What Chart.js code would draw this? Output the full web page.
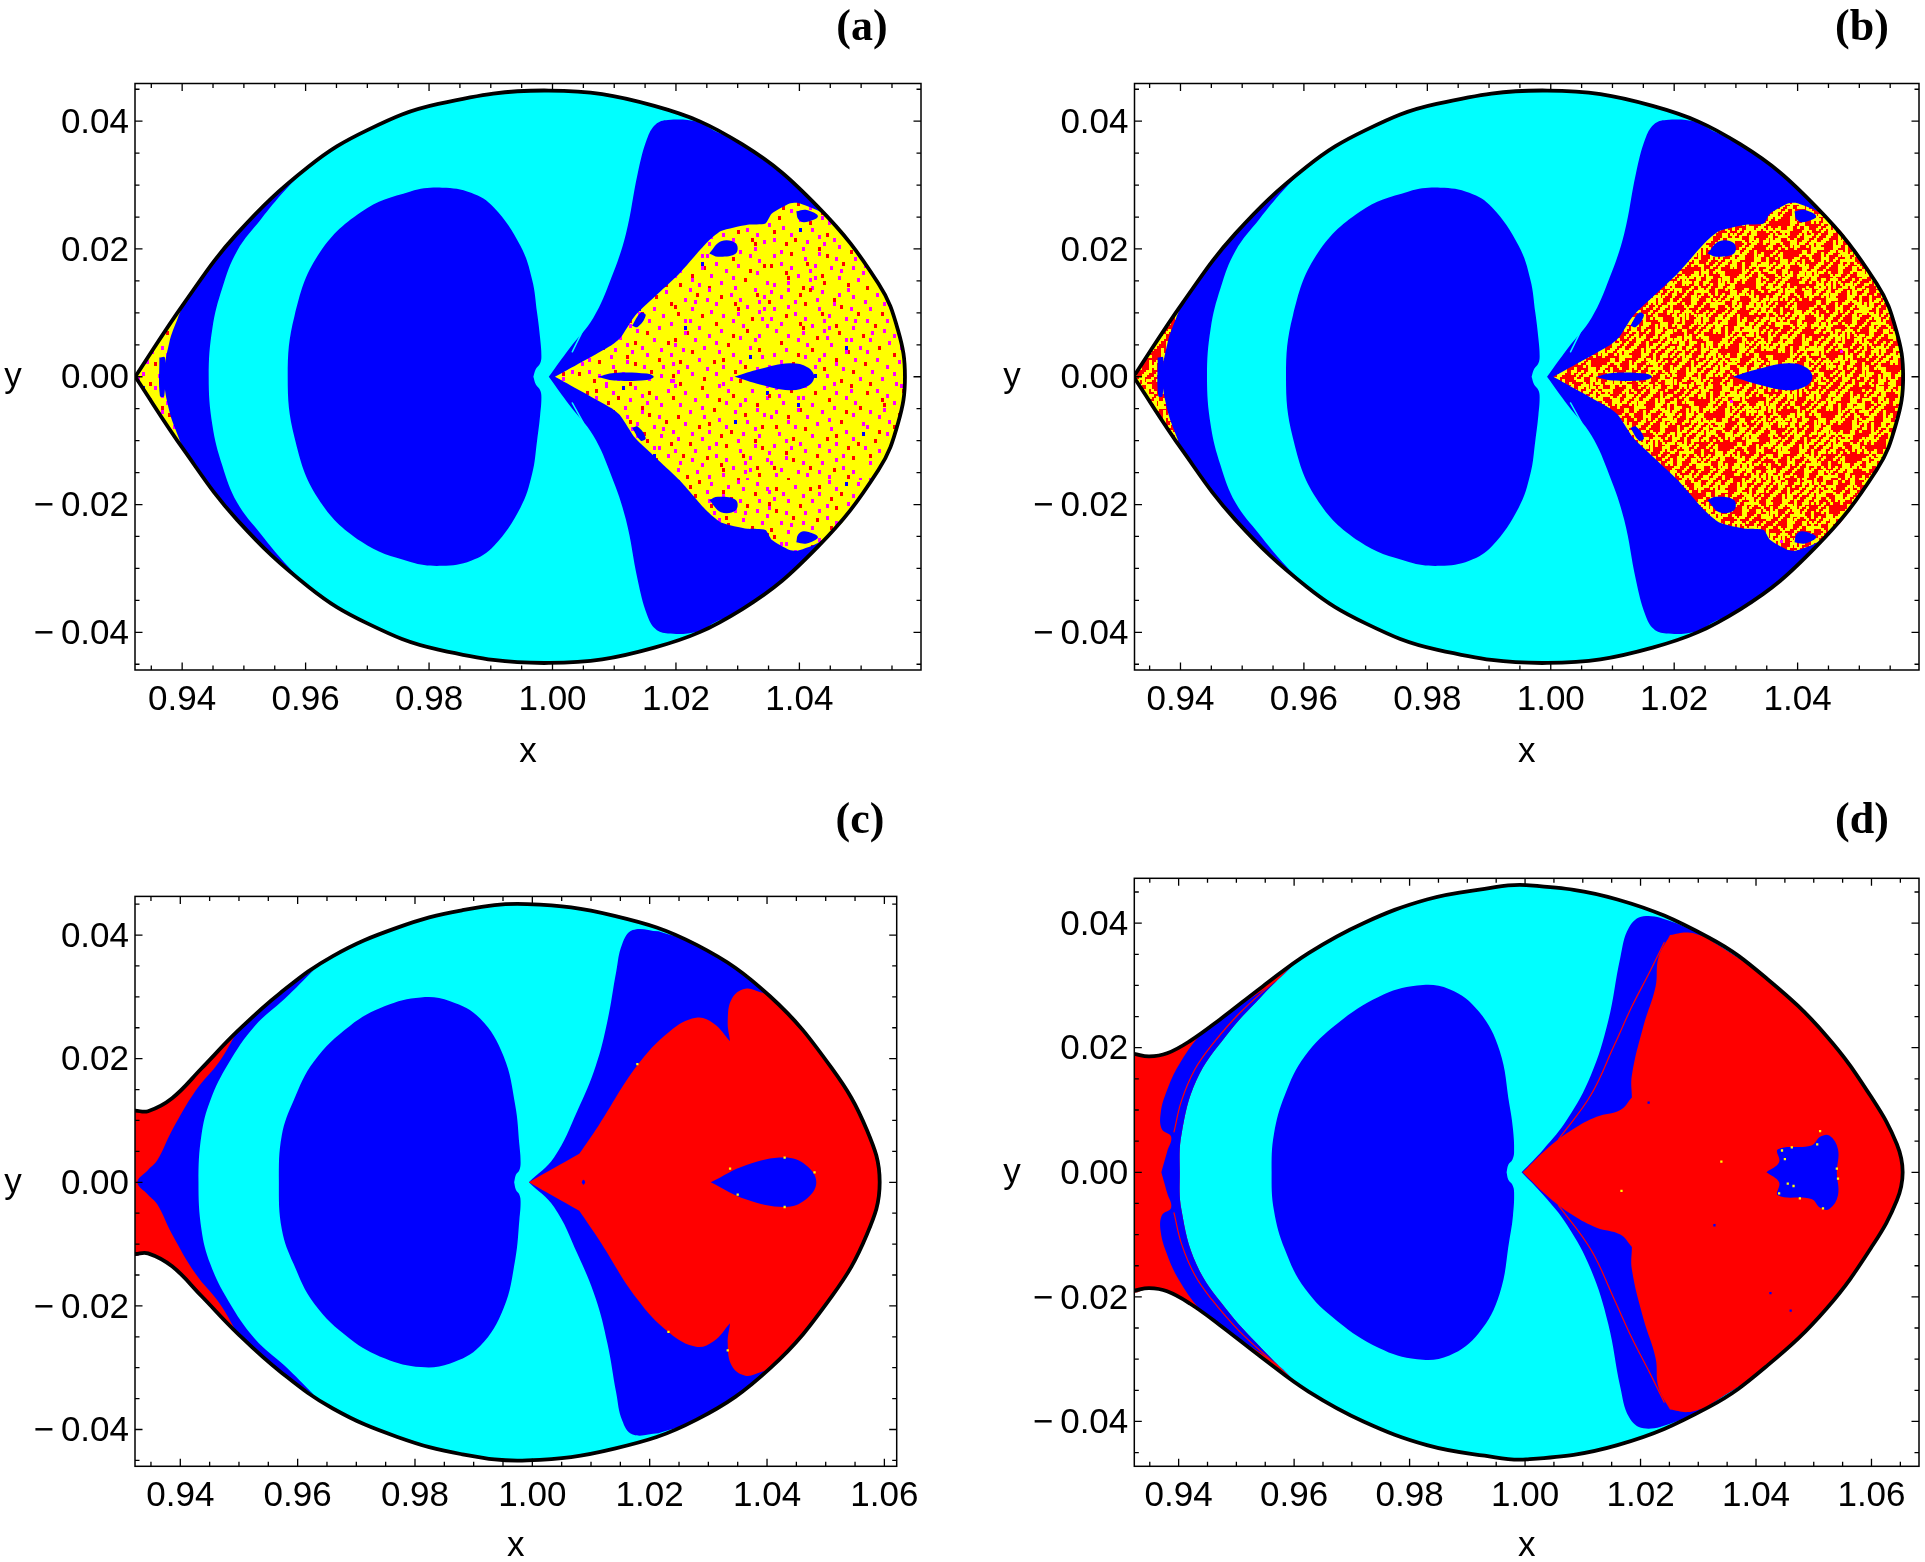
<!DOCTYPE html>
<html><head><meta charset="utf-8">
<style>html,body{margin:0;padding:0;background:#fff}canvas{position:absolute;display:block}</style>
<script src="https://cdn.jsdelivr.net/npm/chart.js@4"></script></head>
<body>
<canvas id="pa" width="1000" height="790" style="left:0;top:0"></canvas>
<canvas id="pb" width="925" height="790" style="left:1000px;top:0"></canvas>
<canvas id="pc" width="1000" height="772" style="left:0;top:790px"></canvas>
<canvas id="pd" width="925" height="772" style="left:1000px;top:790px"></canvas>
<script>
// ---------- tick values and labels ----------
const xTickValues=[0.935,0.94,0.945,0.95,0.955,0.96,0.965,0.97,0.975,0.98,0.985,0.99,0.995,1.00,1.005,1.01,1.015,1.02,1.025,1.03,1.035,1.04,1.045,1.05,1.055,1.06,1.065];
const xMajorValues=[0.94,0.96,0.98,1.00,1.02,1.04,1.06];
const xMajorLabels=['0.94','0.96','0.98','1.00','1.02','1.04','1.06'];
const yTickValues=[-0.045,-0.04,-0.035,-0.03,-0.025,-0.02,-0.015,-0.01,-0.005,0,0.005,0.01,0.015,0.02,0.025,0.03,0.035,0.04,0.045];
const yMajorValues=[-0.04,-0.02,0,0.02,0.04];
const yMajorLabels=['\u2212\u20090.04','\u2212\u20090.02','0.00','0.02','0.04'];
const panelLabels=['(a)','(b)','(c)','(d)'];

// ---------- panels a and b: upper halves (curves are symmetric about y=0) ----------
const boundaryAB=[[.9324,0],[.9403,.0115],[.9489,.0224],[.9605,.0329],[.97,.0386],[.9815,.0427],[.9994,.0448],[1.0165,.0424],[1.0307,.0364],[1.043,.0266],[1.0528,.0146],[1.056,.0072],[1.0571,0]];
const lobeAB=[[.9969,0],[.9973,.0012],[.998,.0021],[.9982,.0032],[.998,.006],[.9975,.01],[.9967,.0152],[.9948,.0205],[.9905,.0265],[.9868,.0288],[.9821,.0296],[.977,.029],[.969,.0258],[.962,.019],[.9582,.0095],[.9571,0]];
const crescentAB=[[.9324,0],[.9403,.0115],[.9489,.0224],[.9605,.0329],[.9605,.0329],[.9566,.0291],[.9528,.0247],[.9489,.0197],[.9465,.0139],[.9449,.0076],[.9443,0]];
const rightBlueAB=[[.9994,0],[1.0028,.0045],[1.0066,.0092],[1.0095,.0154],[1.0119,.0224],[1.0138,.0318],[1.0153,.0372],[1.0167,.0395],[1.0187,.0402],[1.0235,.0399],[1.0262,.0385],[1.0262,.0385],[1.0307,.0364],[1.043,.0266],[1.0528,.0146],[1.056,.0072],[1.0571,0]];
const chaosAB=[[1.0004,0],[1.0095,.0049],[1.011,.0061],[1.0134,.0096],[1.0172,.0131],[1.0206,.0162],[1.0249,.0209],[1.0273,.0228],[1.0316,.0238],[1.0345,.024],[1.0355,.0255],[1.0384,.0271],[1.0398,.0272],[1.0432,.0259],[1.047,.0228],[1.0528,.0146],[1.0562,.0068],[1.0571,0]];
const tipChaosAB=[[.9324,0],[.9403,.0115],[.9403,.0115],[.9393,.0092],[.9379,.0053],[.9371,0]];
const islandTearAB=[[1.0295,0],[1.0336,.0012],[1.0384,.0021],[1.0413,.0015],[1.0424,0]];
const islandSmallAB=[[1.0073,0],[1.01,.0006],[1.0153,.0005],[1.0164,0]];
const blobOneAB=[[1.0254,.0193],[1.0273,.0212],[1.0297,.0209],[1.0297,.0193],[1.0268,.0188],[1.0254,.0193]];
const blobTwoAB=[[1.0395,.0259],[1.0412,.0261],[1.043,.0251],[1.0408,.0242],[1.0398,.0247],[1.0395,.0259]];
const blobThreeAB=[[1.0129,.008],[1.0143,.01],[1.0151,.0096],[1.0138,.0078],[1.0129,.008]];
const tipSliverAB=[[.9363,.003],[.9372,.003],[.9371,-.003],[.9364,-.003],[.9363,.003]];
const hatchOneAB=[[.9485,.0162],[.9523,.0216]];
const hatchTwoAB=[[.9485,-.0161],[.9518,-.0204],[.9547,-.0235]];
const hatchThreeAB=[[1.0032,.0039],[1.005,.0074]];
const hatchFourAB=[[1.0032,-.0041],[1.005,-.0072]];

// ---------- panel c ----------
const boundaryC=[[.9323,.0116],[.9345,.0115],[.9386,.0136],[.9436,.0184],[.9497,.0244],[.957,.0306],[.966,.0366],[.977,.0412],[.988,.044],[.9991,.045],[1.014,.0431],[1.028,.0384],[1.0405,.0301],[1.051,.0185],[1.057,.0085],[1.0592,0]];
const crescentC=[[.9323,.0116],[.9345,.0115],[.9386,.0136],[.9436,.0184],[.9497,.0244],[.957,.0306],[.9628,.0344],[.9628,.0344],[.9578,.0297],[.9527,.0253],[.9482,.0192],[.9451,.0132],[.9436,.0076],[.9431,0]];
const tipRedC=[[.9323,.0116],[.9345,.0115],[.9386,.0136],[.9436,.0184],[.9497,.0244],[.9497,.0244],[.9467,.0196],[.9426,.0148],[.9386,.0084],[.9361,.0036],[.9345,.002],[.9327,0]];
const lobeC=[[.9969,0],[.9972,.0012],[.9978,.002],[.998,.0032],[.9978,.006],[.9971,.0124],[.9951,.0204],[.9911,.0265],[.986,.0293],[.981,.0299],[.9749,.0285],[.9689,.0253],[.9628,.0196],[.9593,.0132],[.9573,.0076],[.9568,0]];
const rightBlueC=[[.9994,0],[1.0037,.004],[1.0077,.0116],[1.0108,.0188],[1.0128,.0261],[1.0143,.0341],[1.0153,.0385],[1.0171,.0408],[1.0215,.0406],[1.0215,.0406],[1.028,.0384],[1.0405,.0301],[1.051,.0185],[1.057,.0085],[1.0592,0]];
const rightRedC=[[.9994,0],[1.008,.0046],[1.008,.0046],[1.0113,.0092],[1.0178,.0188],[1.0234,.0244],[1.0279,.0266],[1.0309,.0257],[1.0337,.0228],[1.0337,.0228],[1.0333,.0261],[1.034,.0297],[1.0363,.0313],[1.039,.0307],[1.0405,.0301],[1.051,.0185],[1.057,.0085],[1.0592,0]];
const islandC=[[1.0304,0],[1.0365,.0028],[1.043,.004],[1.0466,.0028],[1.0484,0]];
const dotC=[[1.0084,0],[1.0087,.0004],[1.009,0]];
const yellowSpecksC=[[1.0337,.0022],[1.043,.004],[1.0481,.0016],[1.043,-.004],[1.035,-.002],[1.0179,.0191],[1.0232,-.0242],[1.0333,-.0272]];

// ---------- panel d ----------
const boundaryD=[[.9323,.019],[.9349,.0186],[.938,.0191],[.942,.0211],[.9471,.0245],[.9545,.0298],[.9625,.0352],[.972,.04],[.983,.0438],[.993,.0455],[1.0002,.0461],[1.016,.0438],[1.0318,.0377],[1.042,.031],[1.0522,.0219],[1.0603,.0116],[1.0644,.0045],[1.0654,0]];
const leftRedD=[[.9323,.019],[.9349,.0186],[.938,.0191],[.942,.0211],[.9471,.0245],[.9545,.0298],[.9604,.0338],[.9604,.0338],[.9543,.0282],[.9482,.0219],[.9431,.0148],[.9405,.0061],[.9402,0]];
const leftBlueD=[[.937,0],[.938,.0033],[.9387,.0057],[.9371,.0069],[.9369,.0096],[.938,.0132],[.94,.0172],[.9436,.0219],[.9471,.0247],[.9522,.0278],[.9573,.031],[.9604,.0338],[.9604,.0338],[.9543,.0282],[.9482,.0219],[.9431,.0148],[.9405,.0061],[.9402,0]];
const leftStreakD=[[.9392,.0065],[.9405,.0115],[.9428,.0165],[.9458,.0205],[.9505,.0255],[.957,.031]];
const lobeD=[[.9968,0],[.9971,.0012],[.9978,.002],[.9981,.0032],[.9979,.007],[.9973,.0108],[.9956,.0195],[.992,.0258],[.9869,.0294],[.9813,.03],[.9747,.0282],[.9675,.0239],[.9619,.0187],[.9584,.0124],[.9565,.0061],[.9561,0]];
const rightBlueD=[[.9994,0],[1.0032,.0037],[1.0073,.0085],[1.0114,.0156],[1.0144,.0243],[1.0165,.0345],[1.018,.0393],[1.0205,.0411],[1.0256,.0402],[1.0313,.0378],[1.0313,.0378],[1.042,.031],[1.0522,.0219],[1.0603,.0116],[1.0644,.0045],[1.0654,0]];
const rightRedD=[[.9996,0],[1.0042,.0041],[1.0083,.0069],[1.0124,.0089],[1.0165,.01],[1.0185,.012],[1.0185,.012],[1.0185,.0156],[1.0205,.0235],[1.0226,.0298],[1.0231,.0345],[1.0251,.0381],[1.0251,.0381],[1.0282,.0385],[1.0312,.0378],[1.0312,.0378],[1.042,.031],[1.0522,.0219],[1.0603,.0116],[1.0644,.0045],[1.0654,0]];
const rightStreakD=[[1.0058,.0053],[1.0114,.0124],[1.0154,.0203],[1.0185,.0266],[1.0216,.0322],[1.0241,.0369]];
const islandD=[[1.0418,0],[1.044,.0016],[1.0438,.0037],[1.0496,.0043],[1.0511,.0057],[1.0527,.0059],[1.0542,.0037],[1.054,0]];
const yellowSpecksD=[[1.0445,.0035],[1.045,.0021],[1.0462,.004],[1.0511,.0066],[1.0506,.0045],[1.054,.0006],[1.0542,-.001],[1.0455,-.0018],[1.044,-.0034],[1.0465,-.0022],[1.0476,-.0042],[1.0516,-.0058],[1.034,.0017],[1.0167,-.003]];
const blueSpecksD=[[1.0214,.0112],[1.0328,-.0085],[1.0425,-.0194],[1.046,-.0222]];

// ---------- colours and textures (style only) ----------
const CYAN='#00ffff',BLUE='#0000ff',RED='#ff0000',YELLOW='#ffff00',MAGENTA='#ff00ff';
const speckleRowsA=[
"..m..................r..........m.......",
"..........m...................m.........",
".....................m..............r...",
"......r........m........................",
"...........................r...m........",
".m.................m...................m",
"............r...........................",
".......................m.........m......",
".....m.................................b",
"..............m..........r..............",
"r......................................m",
".........m.........r..........m.........",
"......................m.................",
"...m........................m......r....",
"............m...........................",
".................r.................m....",
".......m..................m.............",
"..............................r.......m.",
"..r..........m..........................",
"...................m....................",
"..........................b....m........",
".....m.........r........................",
"...........r..........m..............r..",
"..................................m.....",
"m..............m........r...............",
"........m....................m..........",
"....................r...............m...",
"..m.........m...........................",
"...........................m......r.....",
".......r..........m.....................",
"......................r...........m.....",
"...............m.....................r..",
".m.......m..................m...........",
"........................................",
"....r.............m..........r..........",
"..............r.................m.......",
"........m.............m................m",
"...m..........................m.........",
"............m.......r...................",
".........................m.........r....",
];
const streakRowsB=[
"d....v...d...e....d..v....d...d....v....",
"...d....d...v...d.....e...v....d....d...",
".v...e.....d....v...d....d...e.....d...v",
"....d...v....d.....d...v.....d...v....d.",
"d.....d....e....d....v...d.....d....e...",
"..v.....d....d.....v.....d..v....d....d.",
".....d....v.....e.....d......d....v.....",
"d..e....d...d.....v.....d..e....d....v..",
"...v..d.....v...d....d.....v.....d.d....",
".d......e.....d....v.....d....d.v.....e.",
];
const blockColRoll=[0,13,27,6,33],blockRowRoll=[0,21,8,35,16];
function eachBlock(fn){ // five by five rolled copies of the small texture
  for(let bi=0;bi<5;bi++)for(let bj=0;bj<5;bj++)
    fn(bi,bj,blockColRoll[(bi+2*bj)%5],blockRowRoll[(2*bi+bj)%5]);
}
function makeSpeckle(rows){
  const cell=2.4,t=document.createElement('canvas');t.width=480;t.height=480;
  const c=t.getContext('2d');c.fillStyle=YELLOW;c.fillRect(0,0,480,480);
  const col={m:MAGENTA,r:RED,b:BLUE};
  eachBlock((bi,bj,cr,rr)=>rows.forEach((r,j)=>{for(let i=0;i<r.length;i++){if(col[r[i]]){c.fillStyle=col[r[i]];
    const x=((i+cr)%40)*cell+bi*96,y=((j+rr)%40)*cell+bj*96;
    c.fillRect(Math.round(x),Math.round(y),3,4);}}}));
  return c.createPattern(t,'repeat');
}
function makeStreak(rows){
  const cell=2.4,t=document.createElement('canvas');t.width=480;t.height=480;
  const c=t.getContext('2d');c.fillStyle=RED;c.fillRect(0,0,480,480);c.fillStyle=YELLOW;
  const steps={d:[1,-1],e:[1,1],v:[0,1]};
  [[0,0],[19,22]].forEach(pass=>eachBlock((bi,bj,cr,rr)=>rows.forEach((r,j)=>{for(let i=0;i<r.length;i++){const s=steps[r[i]];if(!s)continue;
    const len=3+(i+j)%4,jit=(i*7)%4;
    for(let k=0;k<len;k++){
      const x=((i+cr+pass[0]+s[0]*k)%40)*cell+bi*96,y=((j*4+jit+rr+pass[1]+s[1]*k+40)%40)*cell+bj*96;
      c.fillRect(Math.round(x),Math.round(y),3,3);}}})));
  c.fillStyle=MAGENTA;[[40,55],[170,140],[300,60],[410,230],[90,320],[250,400],[360,350],[130,450]].forEach(p=>c.fillRect(p[0],p[1],3,3));
  return c.createPattern(t,'repeat');
}
const yellowTex=makeSpeckle(speckleRowsA);
const redTex=makeStreak(streakRowsB);

// ---------- helpers ----------
const mirror=u=>u.concat(u.slice().reverse().filter(p=>p[1]!==0).map(p=>[p[0],-p[1]]));
const closedSym=u=>{const m=mirror(u);return m.concat([m[0]]);};
const flip=u=>u.map(p=>[p[0],-p[1]]);
const toXY=a=>a.map(p=>({x:p[0],y:p[1]}));
const poly=(a,color,t=.4)=>({type:'scatter',showLine:true,data:toXY(a),fill:'shape',backgroundColor:color,borderColor:'rgba(0,0,0,0)',borderWidth:0,pointRadius:0,tension:t});
const curve=(a,color,w,t=.4)=>({type:'scatter',showLine:true,data:toXY(a),fill:false,borderColor:color,borderWidth:w,pointRadius:0,tension:t,borderCapStyle:'round'});
const dots=(a,color)=>({type:'scatter',showLine:false,data:toXY(a),backgroundColor:color,borderWidth:0,pointStyle:'rect',pointRadius:1.6});

const layersAB=tex=>[
  poly(closedSym(boundaryAB),CYAN),
  poly(closedSym(crescentAB),BLUE),
  poly(closedSym(lobeAB),BLUE),
  poly(closedSym(rightBlueAB),BLUE),
  curve(hatchOneAB,CYAN,1.5),curve(hatchTwoAB,CYAN,1.5),curve(hatchThreeAB,CYAN,1.5),curve(hatchFourAB,CYAN,1.5),
  poly(closedSym(chaosAB),tex,.2),
  poly(closedSym(tipChaosAB),tex),
  poly(tipSliverAB,BLUE),
  poly(closedSym(islandTearAB),BLUE),
  poly(closedSym(islandSmallAB),BLUE),
  poly(blobOneAB,BLUE),poly(flip(blobOneAB),BLUE),
  poly(blobTwoAB,BLUE),poly(flip(blobTwoAB),BLUE),
  poly(blobThreeAB,BLUE),poly(flip(blobThreeAB),BLUE),
  curve(closedSym(boundaryAB),'#000',3.8),
];
const layersC=[
  poly(closedSym(boundaryC),CYAN),
  poly(closedSym(crescentC),BLUE),
  poly(closedSym(tipRedC),RED),
  poly(closedSym(lobeC),BLUE),
  poly(closedSym(rightBlueC),BLUE),
  poly(closedSym(rightRedC),RED),
  poly(closedSym(islandC),BLUE),
  poly(closedSym(dotC),BLUE),
  dots(yellowSpecksC,YELLOW),
  curve(mirror(boundaryC),'#000',3.8),
];
const layersD=[
  poly(closedSym(boundaryD),CYAN),
  poly(closedSym(leftRedD),RED),
  poly(closedSym(leftBlueD),BLUE),
  curve(leftStreakD,RED,1.2),curve(flip(leftStreakD),RED,1.2),
  poly(closedSym(lobeD),BLUE),
  poly(closedSym(rightBlueD),BLUE),
  poly(closedSym(rightRedD),RED),
  curve(rightStreakD,RED,1.2),curve(flip(rightStreakD),RED,1.2),
  poly(closedSym(islandD),BLUE),
  dots(yellowSpecksD,YELLOW),dots(blueSpecksD,BLUE),
  curve(mirror(boundaryD),'#000',3.8),
];

// ---------- panel geometry ----------
const near=(a,v)=>a.findIndex(w=>Math.abs(w-v)<1e-6);
function panel(id,g,layers,label){
  const canvas=document.getElementById(id);
  const W=canvas.width,H=canvas.height;
  layers.forEach((d,i)=>{d.order=layers.length-i;});
  const frame={id:'frame',afterDatasetsDraw(ch){
    const c=ch.ctx,a=ch.chartArea,sx=ch.scales.x,sy=ch.scales.y;
    c.save();c.strokeStyle='#000';c.lineWidth=1.3;c.beginPath();
    sx.ticks.forEach(t=>{const p=sx.getPixelForValue(t.value),l=near(xMajorValues,t.value)>=0?7.5:4.5;
      c.moveTo(p,a.top);c.lineTo(p,a.top+l);c.moveTo(p,a.bottom);c.lineTo(p,a.bottom-l);});
    sy.ticks.forEach(t=>{const p=sy.getPixelForValue(t.value),l=near(yMajorValues,t.value)>=0?7.5:4.5;
      c.moveTo(a.left,p);c.lineTo(a.left+l,p);c.moveTo(a.right,p);c.lineTo(a.right-l,p);});
    c.stroke();c.lineWidth=1.5;c.strokeRect(a.left,a.top,a.right-a.left,a.bottom-a.top);
    c.fillStyle='#000';c.textAlign='center';c.textBaseline='middle';
    c.font='35px "Liberation Sans"';c.fillText('y',g.yLabelX,sy.getPixelForValue(0)+1);
    c.font='bold 44px "Liberation Serif"';c.fillText(label,g.labelX,g.labelY);
    c.restore();}};
  return new Chart(canvas,{type:'scatter',data:{datasets:layers},plugins:[frame],options:{
    responsive:false,animation:false,devicePixelRatio:1,events:[],
    layout:{autoPadding:false,padding:{left:0,top:g.T,right:W-g.R,bottom:0}},
    plugins:{legend:{display:false},tooltip:{enabled:false},title:{display:false}},
    scales:{
      x:{type:'linear',min:g.xMin,max:g.xMax,
        grid:{display:false,drawTicks:false},border:{display:false},
        ticks:{autoSkip:false,maxRotation:0,minRotation:0,padding:9,color:'#000',font:{family:'"Liberation Sans"',size:35},
          callback:v=>{const i=near(xMajorValues,v);return i>=0?xMajorLabels[i]:'';}},
        title:{display:true,text:'x',color:'#000',font:{family:'"Liberation Sans"',size:35,lineHeight:1},padding:{top:0,bottom:H-g.xLabelY-17.5}},
        afterBuildTicks(s){s.ticks=xTickValues.filter(v=>v>=g.xMin&&v<=g.xMax).map(v=>({value:v}));},
        afterFit(s){s.height=H-g.B;s.paddingLeft=s.paddingRight=s.paddingTop=s.paddingBottom=0;}},
      y:{type:'linear',min:g.yMin,max:g.yMax,
        grid:{display:false,drawTicks:false},border:{display:false},
        ticks:{autoSkip:false,padding:6,labelOffset:2,color:'#000',font:{family:'"Liberation Sans"',size:35},
          callback:v=>{const i=near(yMajorValues,v);return i>=0?yMajorLabels[i]:'';}},
        afterBuildTicks(s){s.ticks=yTickValues.filter(v=>v>=g.yMin&&v<=g.yMax).map(v=>({value:v}));},
        afterFit(s){s.width=g.L;s.paddingLeft=s.paddingRight=s.paddingTop=s.paddingBottom=0;}}
    }}});
}
panel('pa',{L:135,R:921,T:83.5,B:670,xMin:.93236,xMax:1.0597,yMin:-.0459,yMax:.0459,yLabelX:13,labelX:862,labelY:29,xLabelY:752},layersAB(yellowTex),panelLabels[0]);
panel('pb',{L:134.5,R:919,T:83.5,B:670,xMin:.93255,xMax:1.05967,yMin:-.0459,yMax:.0459,yLabelX:12,labelX:862,labelY:29,xLabelY:752},layersAB(redTex),panelLabels[1]);
panel('pc',{L:135,R:896.7,T:106.4,B:676.3,xMin:.93228,xMax:1.0621,yMin:-.04595,yMax:.04625,yLabelX:13,labelX:860,labelY:32,xLabelY:756},layersC,panelLabels[2]);
panel('pd',{L:134.3,R:919,T:88.3,B:676.3,xMin:.93232,xMax:1.06823,yMin:-.0472,yMax:.0472,yLabelX:12,labelX:862,labelY:32,xLabelY:756},layersD,panelLabels[3]);
</script>
</body></html>
